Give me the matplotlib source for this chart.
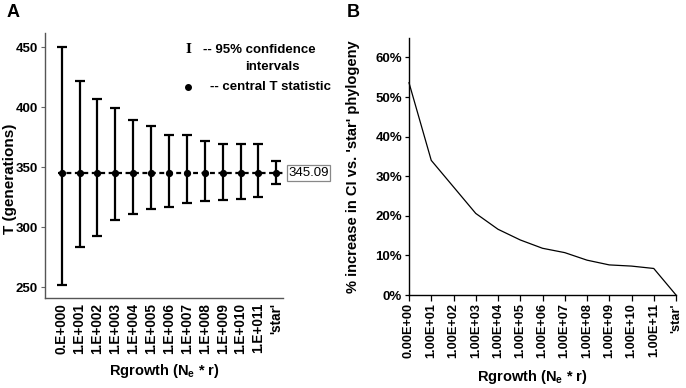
import matplotlib
matplotlib.use("Agg")
import matplotlib.pyplot as plt
import numpy as np
from matplotlib.ticker import FuncFormatter

plt.rcParams['font.family'] = ['Liberation Sans', 'DejaVu Sans']

# ---- data ----
labels_a = ["0.E+000", "1.E+001", "1.E+002", "1.E+003", "1.E+004", "1.E+005", "1.E+006",
            "1.E+007", "1.E+008", "1.E+009", "1.E+010", "1.E+011", "'star'"]
labels_b = ["0.00E+00", "1.00E+01", "1.00E+02", "1.00E+03", "1.00E+04", "1.00E+05", "1.00E+06",
            "1.00E+07", "1.00E+08", "1.00E+09", "1.00E+10", "1.00E+11", "'star'"]
central_t = 345.09
upper_ci = [450, 422, 406.7, 399, 389, 384.4, 377, 377, 371.7, 369, 369, 369, 355.5]
lower_ci = [252, 283.3, 293, 305.8, 310.6, 315.3, 316.7, 320, 321.7, 322.5, 323.3, 325.3, 336.4]
pct_increase = [53.6, 34.0, 27.3, 20.6, 16.6, 13.9, 11.8, 10.7, 8.8, 7.6, 7.3, 6.7, 0.0]

W, H = 686, 388
fig = plt.figure(figsize=(W / 100, H / 100), dpi=100)

def frac(l, r, t, b):
    return [l / W, 1 - b / H, (r - l) / W, (b - t) / H]

# ---- Panel A ----
axA = fig.add_axes(frac(45, 283, 33, 297.5))
x = np.arange(len(labels_a))
centers = np.full(len(x), central_t)
yerr = [centers - np.array(lower_ci), np.array(upper_ci) - centers]
axA.errorbar(x, centers, yerr=yerr, fmt='none', ecolor='black', elinewidth=1.6,
             capsize=3.4, capthick=1.6, zorder=3)
axA.plot([-0.2, 12.55], [central_t, central_t], color='black', lw=1.6,
         dashes=(2.2, 1.6), clip_on=False, zorder=2)
axA.plot(x, centers, 'o', color='black', ms=4.2, zorder=4, clip_on=False)
axA.text(12.67, central_t, f"{central_t:.2f}", fontsize=9.5, va='center', ha='left',
         clip_on=False,
         bbox=dict(boxstyle='square,pad=0.12', fc='white', ec='#888888', lw=0.9))
axA.set_xlim(-0.93, 12.37)
axA.set_ylim(241.5, 461.7)
axA.set_yticks([250, 300, 350, 400, 450])
axA.set_xticks(x)
axA.set_xticklabels(labels_a, rotation=90, fontsize=9.8, fontweight='bold')
for t in axA.get_yticklabels():
    t.set_fontsize(9.5)
    t.set_fontweight('bold')
axA.tick_params(axis='x', length=0, pad=4)
axA.tick_params(axis='y', length=3, color='#666666', pad=2)
for s in ['top', 'right']:
    axA.spines[s].set_visible(False)
for s in ['left', 'bottom']:
    axA.spines[s].set_color('#555555')
    axA.spines[s].set_linewidth(1.0)
axA.set_ylabel("T (generations)", fontsize=11, fontweight='bold')
axA.yaxis.set_label_coords(-0.118, 0.448)
axA.set_xlabel("Rgrowth (N$_\\mathregular{e}$ * r)", fontsize=10.5, fontweight='bold')
axA.xaxis.set_label_coords(0.502, -0.245)

# legend text (manual)
axA.text(0.601, 0.936, "I", transform=axA.transAxes, fontsize=9, fontweight='bold',
         family='DejaVu Serif', ha='center', va='center')
axA.text(0.664, 0.936, "-- 95% confidence", transform=axA.transAxes, fontsize=9.5,
         fontweight='bold', ha='left', va='center')
axA.text(0.956, 0.871, "intervals", transform=axA.transAxes, fontsize=9.5,
         fontweight='bold', ha='center', va='center')
axA.plot([0.601], [0.796], 'o', color='black', ms=4, transform=axA.transAxes, clip_on=False)
axA.text(0.693, 0.796, "-- central T statistic", transform=axA.transAxes, fontsize=9.5,
         fontweight='bold', ha='left', va='center')

# ---- Panel B ----
axB = fig.add_axes(frac(409, 676, 38, 295))
xb = np.arange(len(labels_b))
axB.plot(xb, np.array(pct_increase) / 100.0, color='black', lw=0.9, clip_on=False)
axB.set_xlim(0, 12)
axB.set_ylim(0, 0.649)
axB.set_yticks(np.arange(0, 0.61, 0.1))
axB.yaxis.set_major_formatter(FuncFormatter(lambda v, p: f"{v * 100:.0f}%"))
axB.set_xticks(xb)
axB.set_xticklabels(labels_b, rotation=90, fontsize=9.2, fontweight='bold')
for t in axB.get_yticklabels():
    t.set_fontsize(9.5)
    t.set_fontweight('bold')
axB.tick_params(axis='x', length=4, width=0.9, pad=2)
axB.tick_params(axis='y', length=3, width=0.9, pad=2)
for s in ['top', 'right']:
    axB.spines[s].set_visible(False)
for s in ['left', 'bottom']:
    axB.spines[s].set_linewidth(1.0)
axB.set_ylabel("% increase in CI vs. 'star' phylogeny", fontsize=10.5, fontweight='bold')
axB.yaxis.set_label_coords(-0.183, 0.5)
axB.set_xlabel("Rgrowth (N$_\\mathregular{e}$ * r)", fontsize=10.5, fontweight='bold')
axB.xaxis.set_label_coords(0.461, -0.285)

# panel letters
fig.text(7 / W, 1 - 17 / H, "A", fontsize=13, fontweight='bold', ha='left', va='baseline')
fig.text(347 / W, 1 - 17 / H, "B", fontsize=13, fontweight='bold', ha='left', va='baseline')

fig.savefig("out.png", dpi=100)
